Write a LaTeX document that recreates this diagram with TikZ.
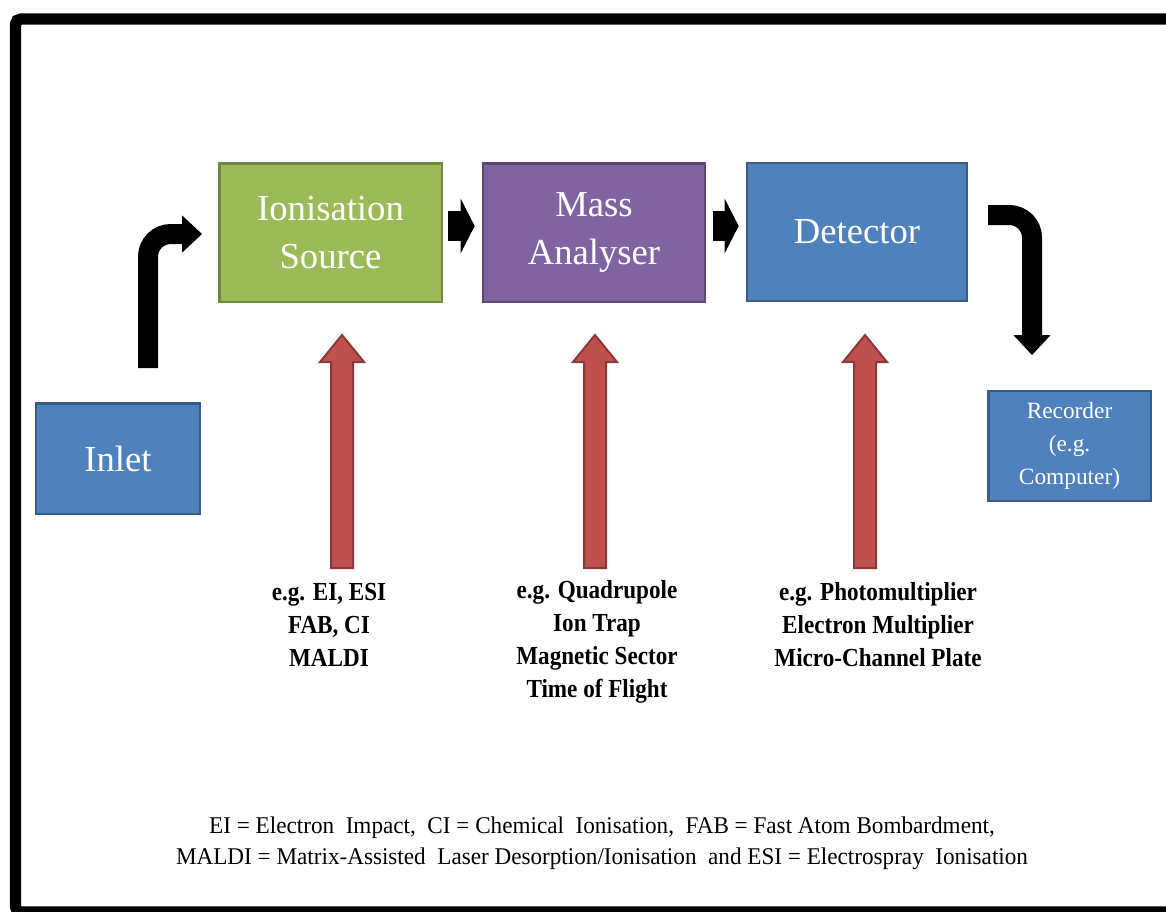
\documentclass[tikz,border=0pt]{standalone}
\usepackage{fontspec}
\setmainfont{Liberation Serif}
\newfontfamily\lblfont[FakeStretch=0.89]{Liberation Serif}
\newfontfamily\notefont[FakeStretch=0.965]{Liberation Serif}
\usetikzlibrary{arrows.meta,calc}
\definecolor{srcfill}{HTML}{9BBB59}
\definecolor{srcline}{HTML}{71893F}
\definecolor{msfill}{HTML}{8064A2}
\definecolor{msline}{HTML}{5C4776}
\definecolor{blfill}{HTML}{4F81BD}
\definecolor{blline}{HTML}{385D8A}
\definecolor{redfill}{HTML}{C0504D}
\definecolor{redline}{HTML}{8C3836}
\tikzset{
  box/.style={rectangle, line width=2pt, inner sep=0pt, align=center, text=white,
    font=\fontsize{27.5}{36}\selectfont},
  srcbox/.style={box, fill=srcfill, draw=srcline, minimum width=167pt, minimum height=104pt},
  msbox/.style={box, fill=msfill, draw=msline, minimum width=166.5pt, minimum height=104pt},
  detbox/.style={box, fill=blfill, draw=blline, minimum width=165pt, minimum height=103.5pt},
  inbox/.style={box, fill=blfill, draw=blline, minimum width=123pt, minimum height=83pt},
  recbox/.style={box, fill=blfill, draw=blline, minimum width=122pt, minimum height=82.5pt,
    font=\fontsize{17.5}{25}\selectfont},
  bentarrow/.style={line width=15pt, rounded corners=17pt,
    -{Triangle[width=28pt,length=15pt,line width=0pt]}},
  stubarrow/.style={line width=23pt,
    -{Triangle[width=41pt,length=10.5pt,line width=0pt]}},
  redarrow/.style={fill=redfill, draw=redline, line width=1.5pt, line join=miter},
  lbl/.style={align=center, inner sep=0pt, font=\lblfont\bfseries\fontsize{19.5}{24.75}\selectfont},
  note/.style={align=center, inner sep=0pt, font=\notefont\fontsize{18}{23.25}\selectfont},
  frame/.style={line width=8.5pt, rounded corners=4pt}
}
\newcommand\upredarrow[1]{%
  \filldraw[redarrow] (#1-11,568) -- (#1-11,362) -- (#1-22,362) -- (#1,335)
    -- (#1+22,362) -- (#1+11,362) -- (#1+11,568) -- cycle;}
\begin{document}
\begin{tikzpicture}[x=0.75pt,y=-0.75pt]
\clip (0,0) rectangle (1166,911);
\fill[white] (0,0) rectangle (1166,911);
\draw[frame] (15.5,19) rectangle (1190,912);

\node[srcbox] (src) at (330.5,232.5) {Ionisation\\Source};
\node[msbox] (ms) at (594,232.5) {Mass\\Analyser};
\node[detbox] (det) at (857,232) {Detector};
\node[inbox] (inlet) at (118,458.5) {Inlet};
\node[recbox] (rec) at (1069.5,446) {Recorder\\(e.g.\\Computer)};

\coordinate (a1) at (148,368);
\coordinate (a1tip) at (202,234);
\draw[bentarrow] (a1) |- (a1tip);
\coordinate (a2) at (988,215);
\coordinate (a2tip) at (1032,355);
\draw[bentarrow] (a2) -| (a2tip);

\draw[stubarrow] ($(src.east)+(5,-6.5)$) -- ($(ms.west)+(-7,-6.5)$);
\draw[stubarrow] ($(ms.east)+(7,-6.5)$) -- ($(det.west)+(-7,-6)$);

\upredarrow{342}
\upredarrow{595}
\upredarrow{865}

\node[lbl] (l1) at (329,625) {e.g. EI, ESI\\FAB, CI\\MALDI};
\node[lbl] (l2) at (597,641.5) {e.g. Quadrupole\\Ion Trap\\Magnetic Sector\\Time of Flight};
\node[lbl] (l3) at (878,625) {e.g. Photomultiplier\\Electron Multiplier\\Micro-Channel Plate};

\node[note] (fn) at (602,843) {EI = Electron\ \ Impact,\ \ CI = Chemical\ \ Ionisation,\ \ FAB = Fast Atom Bombardment,\\
MALDI = Matrix-Assisted\ \ Laser Desorption/Ionisation\ \ and ESI = Electrospray\ \ Ionisation};
\end{tikzpicture}
\end{document}
